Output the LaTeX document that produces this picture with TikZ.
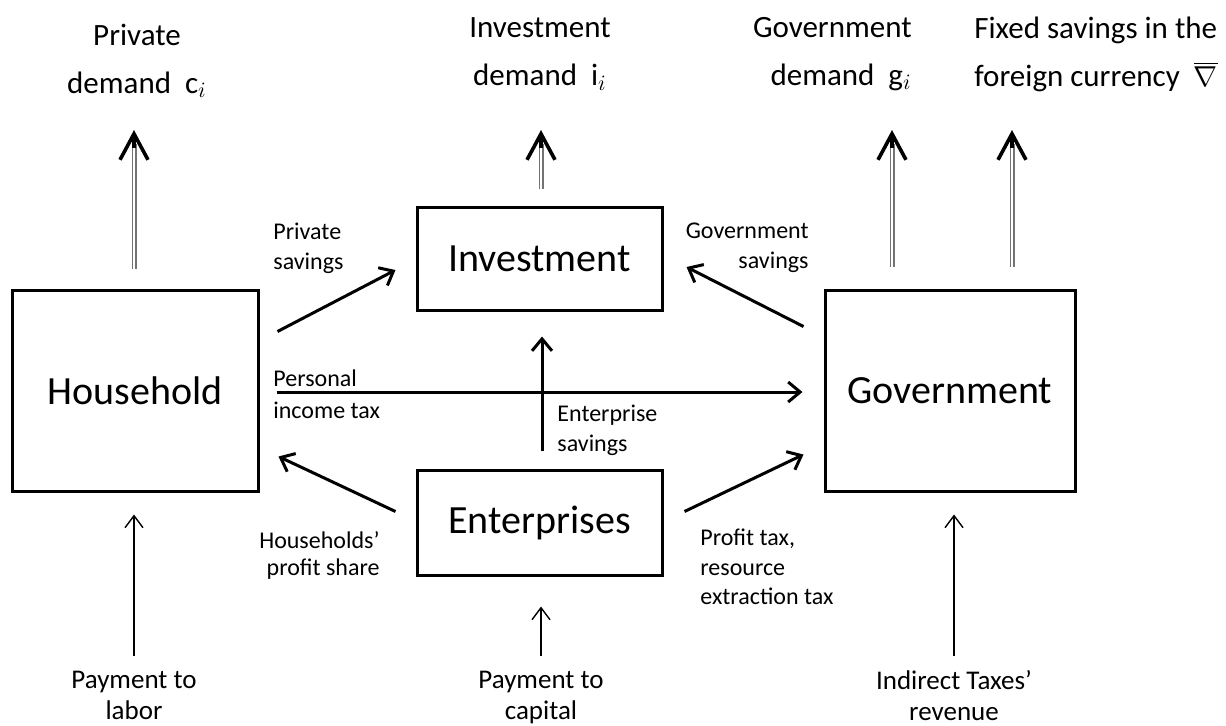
\documentclass[tikz,border=0pt]{standalone}
\usepackage{fontspec}
\setmainfont{Carlito}
\usetikzlibrary{arrows.meta,calc}

\tikzset{
  sector/.style={draw, line width=1.5pt, inner sep=0pt, font=\fontsize{20}{24}\selectfont},
  flow/.style={-{Straight Barb[length=6pt,width=10pt,line width=1.5pt]}, line width=1.5pt},
  thinflow/.style={-{Straight Barb[length=6pt,width=9pt,line width=0.7pt]}, line width=0.7pt},
  dshaft/.style={draw=gray!90!black, double=white, line width=0.75pt, double distance=1pt},
  dhead/.style={-{Straight Barb[length=13pt,width=14pt,line width=1.8pt]}, line width=1.8pt},
  toplbl/.style={font=\fontsize{15.5}{24}\selectfont, inner sep=0pt},
  flowlbl/.style={font=\fontsize{12}{15}\selectfont, inner sep=0pt},
  paylbl/.style={font=\fontsize{13.5}{15.5}\selectfont, inner sep=0pt, align=center},
}

\begin{document}
\begin{tikzpicture}[x=0.5pt, y=-0.5pt]
            \useasboundingbox (0,0) rectangle (1226,725);

            % Sectors
            \node[sector, minimum width=123pt, minimum height=100.5pt] (hh) at (135,390.5) {Household};
            \node[sector, minimum width=122.5pt, minimum height=51.5pt] (inv) at (539.5,258.5) {Investment};
            \node[sector, minimum width=122.5pt, minimum height=52.5pt] (ent) at (539.5,522.5) {Enterprises};
            \node[sector, minimum width=125pt, minimum height=100.5pt] (gov) at (950,390.5) {Government};

            % Final demand
            \node[toplbl, align=center] (pd) at (137,61) {Private\\demand\ \ c$_i$};
            \node[toplbl, align=center] (id) at (540,54) {Investment\\demand\ \ i$_i$};
            \node[toplbl, align=right, anchor=east] (gd) at (912,54) {Government\\demand\ \ g$_i$};
            \node[toplbl, align=left, anchor=west] (fx) at (974,54) {Fixed savings in the\\foreign currency\ \ $\overline{\nabla}$};

            \coordinate (pdtip) at (134,130);
            \coordinate (idtip) at (541,130);
            \coordinate (gdtip) at (892,130);
            \coordinate (fxtip) at (1012,130);

            \draw[dshaft] ($(hh.north -| pdtip)+(0,-20)$) -- ($(pdtip)+(0,14)$);
            \draw[dhead] ($(pdtip)+(0,18)$) -- (pdtip);
            \draw[dshaft] ($(inv.north -| idtip)+(0,-17)$) -- ($(idtip)+(0,14)$);
            \draw[dhead] ($(idtip)+(0,18)$) -- (idtip);
            \draw[dshaft] ($(gov.north -| gdtip)+(0,-22)$) -- ($(gdtip)+(0,14)$);
            \draw[dhead] ($(gdtip)+(0,18)$) -- (gdtip);
            \draw[dshaft] ($(gov.north -| fxtip)+(0,-22)$) -- ($(fxtip)+(0,14)$);
            \draw[dhead] ($(fxtip)+(0,18)$) -- (fxtip);

            % Savings and taxes
            \draw[flow] ($(hh.north east)+(18,43)$) -- ($(inv.west)+(-20,11.5)$);
            \node[flowlbl, align=left, anchor=west] (psl) at (273,248) {Private\\savings};

            \draw[flow] ($(gov.north west)+(-20,38)$) -- ($(inv.east)+(23,8.5)$);
            \node[flowlbl, align=right, anchor=east] (gsl) at (809,248) {Government\\savings};

            \draw[flow, shorten <=8.5pt, shorten >=10.5pt] ($(hh.east)+(0,1.5)$) -- ($(gov.west)+(0,1.5)$);
            \node[flowlbl, align=left, anchor=west, font=\fontsize{12}{16}\selectfont] (pit) at (273,394) {Personal\\income tax};

            \draw[flow, shorten <=9pt, shorten >=12.5pt] ($(ent.north)+(2.5,0)$) -- ($(inv.south)+(2.5,0)$);
            \node[flowlbl, align=left, anchor=west] (esl) at (557,430) {Enterprise\\savings};

            \draw[flow] ($(ent.north west)+(-20,43)$) -- ($(hh.south east)+(19,-36)$);
            \node[flowlbl, align=right, anchor=east, font=\fontsize{12}{13.5}\selectfont] (hps) at (380,555) {Households'\\profit share};

            \draw[flow] ($(ent.north east)+(21,43)$) -- ($(gov.south west)+(-20,-38)$);
            \node[flowlbl, align=left, anchor=west, font=\fontsize{12}{14.75}\selectfont] (ptx) at (700,567) {Profit tax,\\resource\\extraction tax};

            % Factor payments
            \node[paylbl, anchor=north] (pl) at (134,671) {Payment to\\labor};
            \node[paylbl, anchor=north] (pc) at (541,671) {Payment to\\capital};
            \node[paylbl, anchor=north] (it) at (954,670) {Indirect Taxes'\\revenue};

            \draw[thinflow, shorten <=7.5pt, shorten >=11pt] (pl.north) -- (pl.north |- hh.south);
            \draw[thinflow, shorten <=7.5pt, shorten >=15pt] (pc.north) -- (pc.north |- ent.south);
            \draw[thinflow, shorten <=7pt, shorten >=11pt] (it.north) -- (it.north |- gov.south);
\end{tikzpicture}
\end{document}
